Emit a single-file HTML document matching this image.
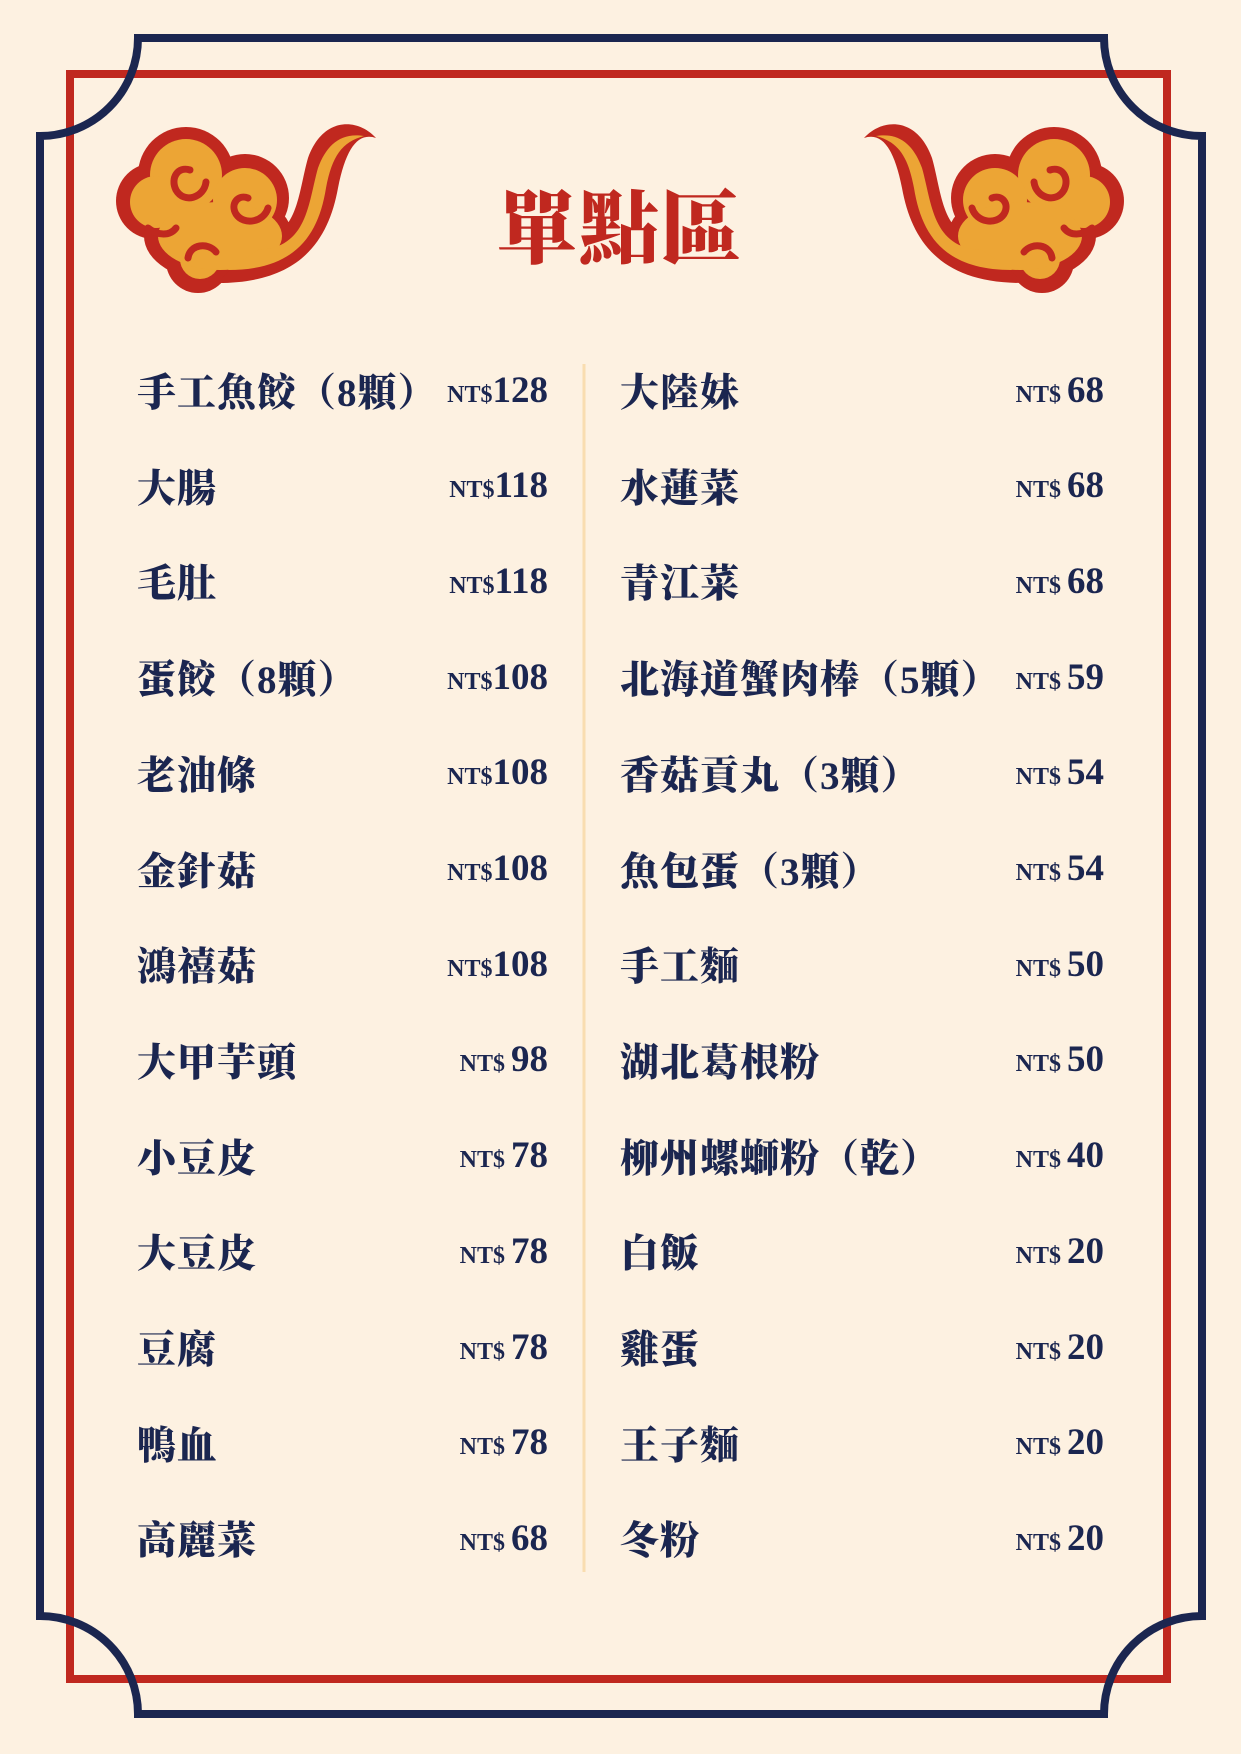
<!DOCTYPE html>
<html><head><meta charset="utf-8">
<style>
html,body{margin:0;padding:0}
body{width:1241px;height:1754px;background:#fdf1e1;position:relative;overflow:hidden;font-family:"Liberation Serif","Noto Serif CJK SC",serif;color:#1b2650}
.abs{position:absolute}
.row{position:absolute;height:50px;display:flex;align-items:center;justify-content:space-between}
.name{font-family:"Liberation Serif","Noto Serif CJK SC","Noto Sans CJK TC",serif;font-weight:900;font-size:39px;letter-spacing:1px;white-space:nowrap}
.price{font-weight:bold;white-space:nowrap;display:flex;align-items:baseline}
.price .c{font-size:24px}
.price .n{font-size:37px}
.title{font-family:"Noto Serif CJK SC","Noto Sans CJK TC",serif;font-weight:900;font-size:80px;color:#c0281f;letter-spacing:2px}
</style></head>
<body>
<svg class="abs" style="left:0;top:0" width="1241" height="1754">
  <rect x="70" y="74" width="1097" height="1605" fill="none" stroke="#c0281f" stroke-width="8"/>
  <path d="M138,38 L1104,38 A98,98 0 0 0 1202,136 L1202,1616 A98,98 0 0 0 1104,1714 L138,1714 A98,98 0 0 0 40,1616 L40,136 A98,98 0 0 0 138,38 Z" fill="none" stroke="#1b2650" stroke-width="8"/>
  <line x1="584" y1="364" x2="584" y2="1572" stroke="#f9ddb0" stroke-width="3"/>
  <defs>
    <g id="cloud">
      <g fill="#c0281f">
        <circle cx="68" cy="57" r="48"/><circle cx="36" cy="83" r="38"/><circle cx="127" cy="80" r="44"/>
        <circle cx="80" cy="143" r="32"/><ellipse cx="100" cy="118" rx="74" ry="46"/>
        <path d="M100,165 C180,165 210,125 220,70 C228,30 240,14 258,20 C240,0 205,-2 190,40 C180,75 180,120 140,120 Z"/>
      </g>
      <g fill="#eca535">
        <circle cx="68" cy="57" r="36"/><circle cx="38" cy="84" r="26"/><circle cx="127" cy="82" r="32"/>
        <circle cx="82" cy="141" r="20"/><ellipse cx="102" cy="118" rx="62" ry="34"/>
        <path d="M110,152 C175,152 200,120 208,70 C214,38 224,24 246,18 C222,14 208,28 200,50 C190,85 190,130 140,132 Z"/>
      </g>
      <g fill="none" stroke="#c0281f" stroke-width="7" stroke-linecap="round">
        <path d="M72,52 C60,48 52,60 58,72 C66,86 86,80 88,64"/>
        <path d="M130,80 C120,76 112,86 118,96 C126,108 146,104 150,90"/>
        <path d="M70,140 C72,126 90,124 98,134"/>
        <path d="M30,110 C40,118 52,118 58,110"/>
      </g>
    </g>
  </defs>
  <use href="#cloud" transform="translate(118,118)"/>
  <use href="#cloud" transform="translate(1122,118) scale(-1,1)"/>
</svg>
<div class="abs title" style="left:490px;top:165px;width:260px;text-align:center">單點區</div>
<div id="rows"></div>
<script>
const leftNames=["手工魚餃（8顆）","大腸","毛肚","蛋餃（8顆）","老油條","金針菇","鴻禧菇","大甲芋頭","小豆皮","大豆皮","豆腐","鴨血","高麗菜"];
const leftPrices=["128","118","118","108","108","108","108","98","78","78","78","78","68"];
const rightNames=["大陸妹","水蓮菜","青江菜","北海道蟹肉棒（5顆）","香菇貢丸（3顆）","魚包蛋（3顆）","手工麵","湖北葛根粉","柳州螺螄粉（乾）","白飯","雞蛋","王子麵","冬粉"];
const rightPrices=["68","68","68","59","54","54","50","50","40","20","20","20","20"];
const host=document.getElementById('rows');
function addRow(name,price,x,w,i,side){
  const r=document.createElement('div');
  r.className='row';
  r.style.left=x+'px';r.style.width=w+'px';r.style.top=(365+i*95.7)+'px';
  
  
  const n=document.createElement('span');n.className='name';n.textContent=name;
  
  
  const p=document.createElement('span');p.className='price';
  
  
  const sp=(side==='r'||price.length<3)?'\u00a0':'';
  p.innerHTML='<span class="c">NT$'+sp+'</span><span class="n">'+price+'</span>';
  r.appendChild(n);r.appendChild(p);host.appendChild(r);
}
leftNames.forEach((n,i)=>addRow(n,leftPrices[i],137,411,i,'l'));
rightNames.forEach((n,i)=>addRow(n,rightPrices[i],620,484,i,'r'));
</script>
</body></html>
